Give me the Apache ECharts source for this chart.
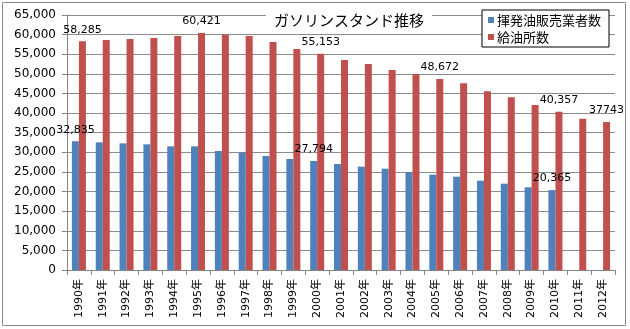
<!DOCTYPE html>
<html>
<head>
<meta charset="utf-8">
<script src="https://cdn.jsdelivr.net/npm/echarts@6/dist/echarts.min.js"></script>
<style>
html,body{margin:0;padding:0;background:#fff;}
#c{width:630px;height:329px;}
</style>
</head>
<body>
<div id="c"></div>
<script>
const years = ['1990年','1991年','1992年','1993年','1994年','1995年','1996年','1997年','1998年','1999年','2000年','2001年','2002年','2003年','2004年','2005年','2006年','2007年','2008年','2009年','2010年','2011年','2012年'];
const dealers = [32835, 32540, 32280, 32030, 31520, 31520, 30330, 29910, 29060, 28290, 27794, 27020, 26340, 25830, 24980, 24300, 23790, 22770, 22000, 21080, 20365, null, null];
const stations = [58285, 58630, 58880, 59140, 59650, 60421, 59990, 59650, 58110, 56330, 55153, 53530, 52510, 50980, 49960, 48672, 47580, 45540, 44010, 42060, 40357, 38580, 37743];
const dealerLabels = ['32,835', null, null, null, null, null, null, null, null, null, '27,794', null, null, null, null, null, null, null, null, null, '20,365', null, null];
const stationLabels = ['58,285', null, null, null, null, '60,421', null, null, null, null, '55,153', null, null, null, null, '48,672', null, null, null, null, '40,357', null, '37743'];
const seriesNames = ['揮発油販売業者数', '給油所数'];
const titleText = 'ガソリンスタンド推移';

const numFont = '"DejaVu Sans", "Noto Sans CJK JP", sans-serif';
const jpFont = '"Noto Sans CJK JP", sans-serif';

function withLabels(vals, labels) {
  return vals.map((v, i) => ({
    value: v,
    label: labels[i] ? { show: true, formatter: labels[i] } : { show: false }
  }));
}

const chart = echarts.init(document.getElementById('c'), null, {renderer: 'canvas'});
chart.setOption({
  animation: false,
  backgroundColor: '#fff',
  title: {
    text: titleText,
    left: 266,
    top: 8,
    padding: [3, 8, 1, 8],
    backgroundColor: '#fff',
    textStyle: { fontFamily: jpFont, fontSize: 15, fontWeight: 'normal', color: '#000', lineHeight: 18 }
  },
  legend: {
    orient: 'vertical',
    left: 482,
    top: 10,
    padding: [2, 8, 2, 6],
    itemGap: 1,
    itemWidth: 6,
    itemHeight: 6,
    icon: 'rect',
    backgroundColor: '#fff',
    borderColor: '#000',
    borderWidth: 1,
    borderRadius: 0,
    textStyle: { fontFamily: jpFont, fontSize: 13, color: '#000', lineHeight: 16, padding: [0, 0, 0, -2] },
    data: seriesNames
  },
  grid: { left: 67, right: 15, top: 15, bottom: 59, containLabel: false },
  xAxis: {
    type: 'category',
    data: years,
    axisLine: { lineStyle: { color: '#868686', width: 1 } },
    axisTick: { show: true, length: 5, alignWithLabel: false, lineStyle: { color: '#868686' } },
    axisLabel: { rotate: 90, margin: 9, fontFamily: numFont, fontSize: 11, color: '#000', interval: 0 }
  },
  yAxis: {
    type: 'value',
    min: 0,
    max: 65000,
    interval: 5000,
    axisLine: { show: true, lineStyle: { color: '#868686', width: 1 } },
    axisTick: { show: true, length: 5, lineStyle: { color: '#868686' } },
    axisLabel: {
      margin: 11,
      fontFamily: numFont,
      fontSize: 12,
      color: '#000',
      formatter: v => v.toLocaleString('en-US')
    },
    splitLine: { show: true, lineStyle: { color: '#8c8c8c', width: 1 } }
  },
  series: [
    {
      name: seriesNames[0],
      type: 'bar',
      barWidth: 7,
      barGap: '0%',
      itemStyle: { color: '#4F81BD' },
      label: { position: 'top', distance: 6, fontFamily: numFont, fontSize: 11, color: '#000' },
      data: withLabels(dealers, dealerLabels)
    },
    {
      name: seriesNames[1],
      type: 'bar',
      barWidth: 7,
      barGap: '0%',
      itemStyle: { color: '#C0504D' },
      label: { position: 'top', distance: 6, fontFamily: numFont, fontSize: 11, color: '#000' },
      data: withLabels(stations, stationLabels)
    }
  ],
  graphic: [
    {
      type: 'rect',
      shape: { x: 2.5, y: 2.5, width: 623, height: 323 },
      style: { fill: 'none', stroke: '#8a8a8a', lineWidth: 1 },
      silent: true
    }
  ]
});
</script>
</body>
</html>
